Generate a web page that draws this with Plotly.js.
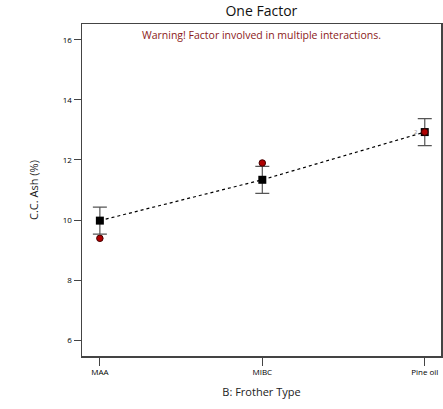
<!DOCTYPE html>
<html><head><meta charset="utf-8">
<script src="https://cdn.plot.ly/plotly-3.0.1.min.js"></script>
<style>html,body{margin:0;padding:0;background:#fff;}#chart{width:443px;height:409px;}</style>
</head><body><div id="chart"></div>
<script>
const categories = ["MAA", "MIBC", "Pine oil"];
const predicted = [9.98, 11.34, 12.93];
const ciHalf = [0.45, 0.45, 0.45];
const actual = [9.39, 11.90, 12.93];
const yTicks = [6, 8, 10, 12, 14, 16];

const font = "Open Sans, Segoe UI, sans-serif";
const traces = [
  {x: categories, y: predicted, type: "scatter", mode: "lines+markers",
   line: {color: "#000", width: 1.2, dash: "dot"},
   marker: {symbol: "square", size: 8, color: "#000"},
   error_y: {type: "data", array: ciHalf, visible: true, color: "#555", thickness: 1.2, width: 7},
   hoverinfo: "skip", showlegend: false},
  {x: categories, y: actual, type: "scatter", mode: "markers",
   marker: {symbol: "circle", size: 6.5, color: "#b00000", line: {color: "#400", width: 1}},
   showlegend: false}
];
const layout = {
  width: 443, height: 409,
  margin: {l: 82, r: 2, t: 24, b: 53},
  paper_bgcolor: "#fff", plot_bgcolor: "#fff",
  font: {family: font, color: "#222"},
  title: {text: "One Factor", font: {family: font, size: 14, color: "#111"}, x: 0.59, xanchor: "center", y: 0.985, yanchor: "top"},
  xaxis: {type: "category", range: [-0.11, 2.1], showgrid: false, zeroline: false,
    showline: true, mirror: true, linecolor: "#444", linewidth: 1.5,
    ticks: "outside", ticklen: 8, tickcolor: "#444", tickwidth: 1,
    tickfont: {size: 8, family: font, color: "#000"},
    title: {text: "B: Frother Type", font: {size: 11, family: font, color: "#222"}, standoff: 12}},
  yaxis: {range: [5.47, 16.53], tickvals: yTicks, showgrid: false, zeroline: false,
    showline: true, mirror: true, linecolor: "#444", linewidth: 1.5,
    ticks: "outside", ticklen: 7, tickcolor: "#444", tickwidth: 1,
    tickfont: {size: 8, family: font, color: "#000"},
    title: {text: "C.C. Ash (%)", font: {size: 11, family: font, color: "#222"}, standoff: 22}},
  annotations: [
    {text: "Warning! Factor involved in multiple interactions.", xref: "paper", yref: "paper",
     x: 0.5, y: 0.995, xanchor: "center", yanchor: "top", showarrow: false,
     font: {size: 10.5, family: font, color: "#8b1a1a"}},
    {text: "2", xref: "x", yref: "y", x: 2, y: 12.93, xshift: -9, xanchor: "center", yanchor: "middle",
     showarrow: false, font: {size: 6, family: font, color: "#999"}}
  ]
};
Plotly.newPlot("chart", traces, layout, {displayModeBar: false, staticPlot: true});
</script></body></html>
